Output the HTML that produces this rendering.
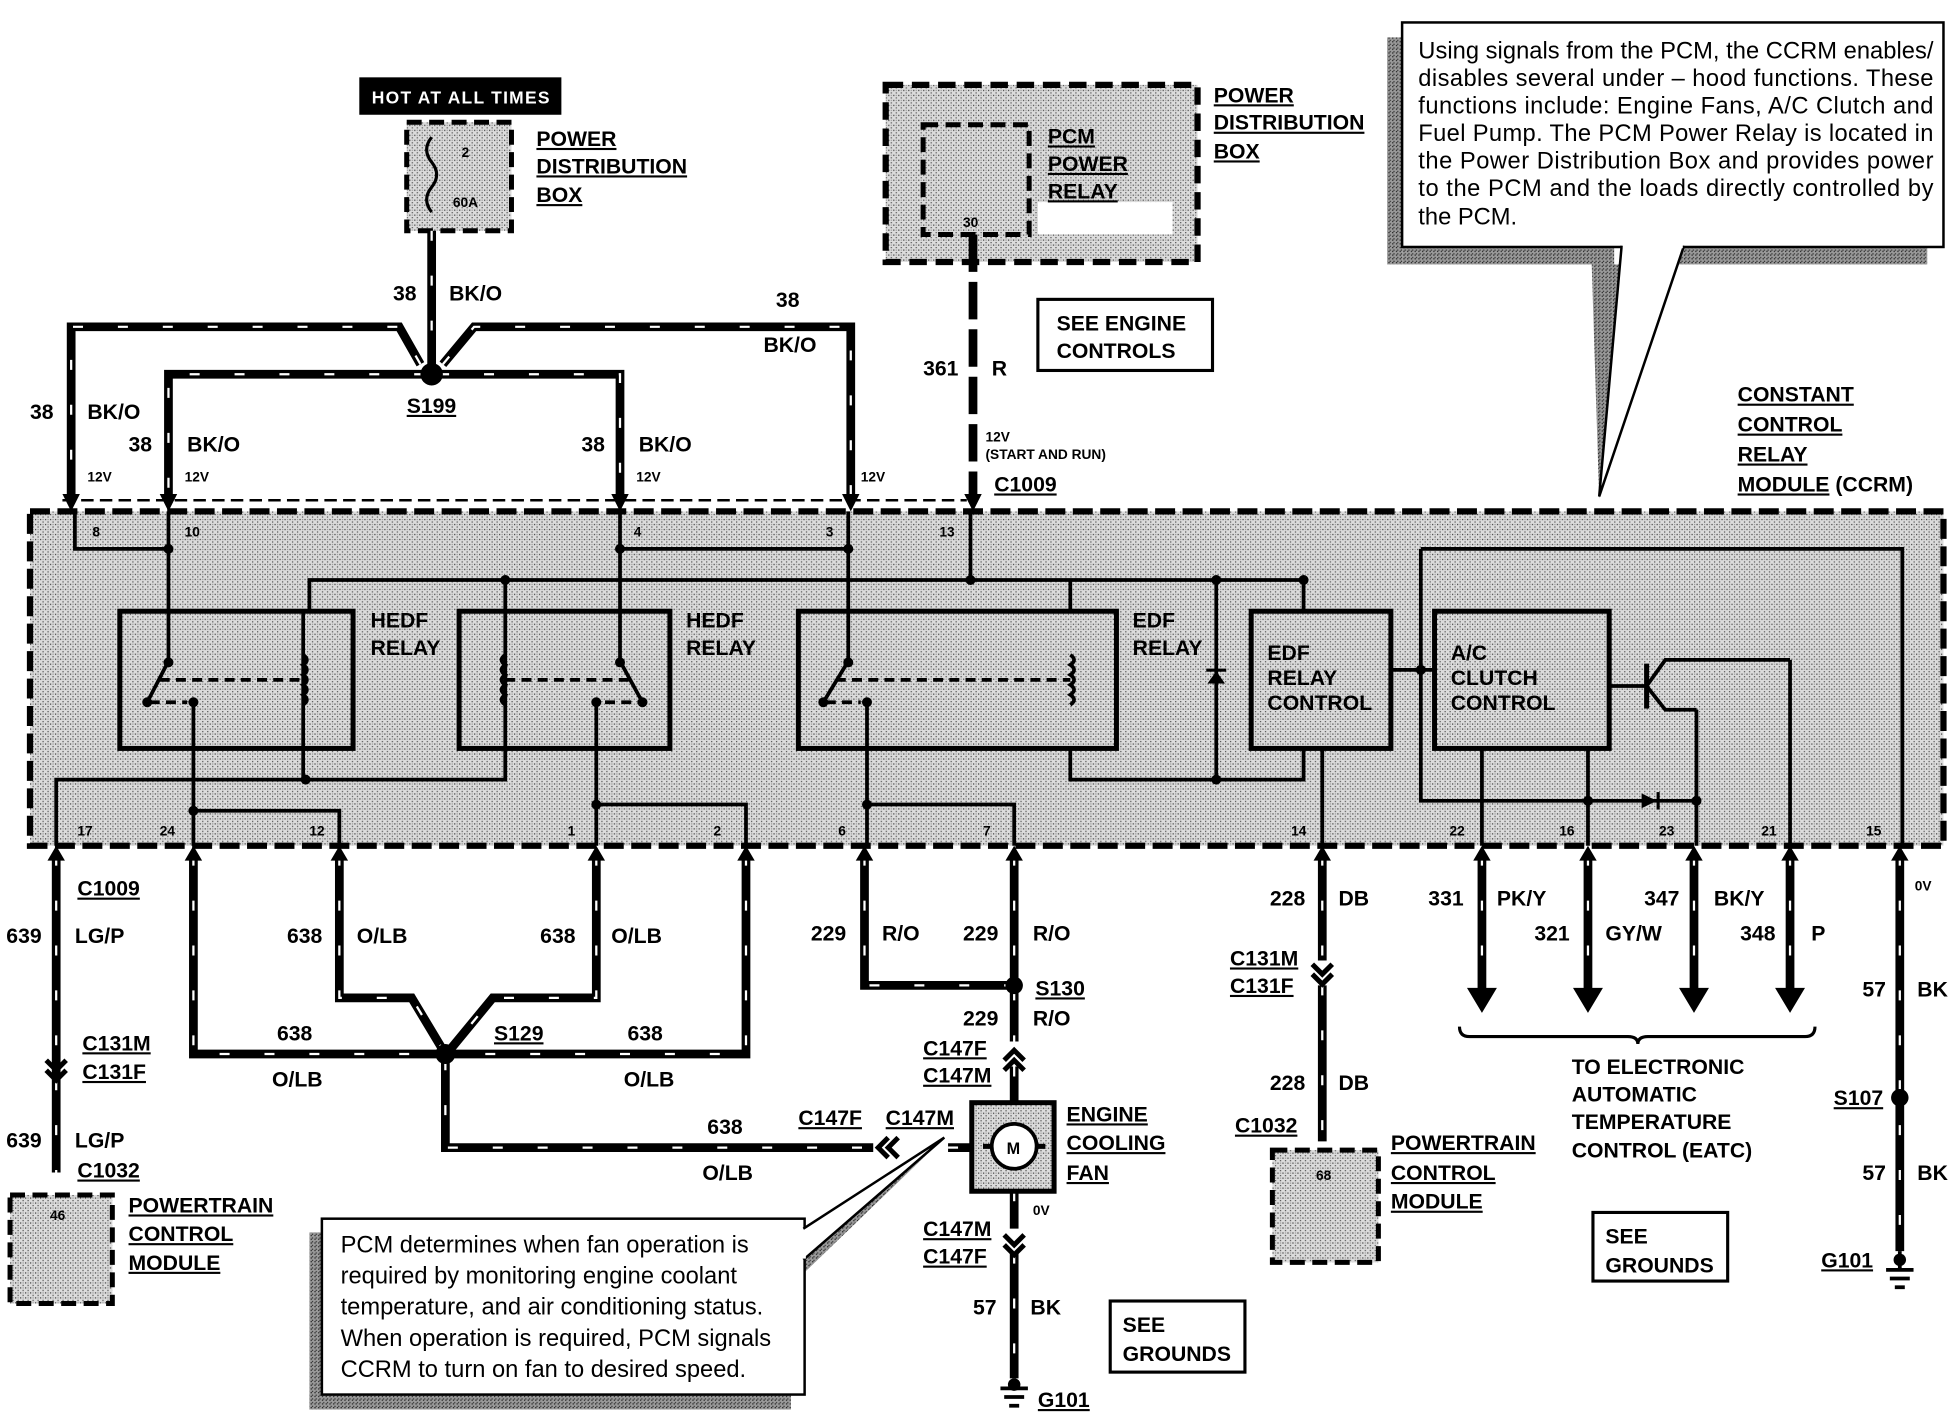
<!DOCTYPE html>
<html><head><meta charset="utf-8"><style>
html,body{margin:0;padding:0;background:#fff}
svg{display:block}
text{font-family:"Liberation Sans",sans-serif;font-weight:bold;fill:#000}
.t{font-size:17px}
.s{font-size:11px}
.n{font-size:19px;font-weight:normal}
.u{text-decoration:underline}
</style></head><body>
<svg width="1956" height="1424" viewBox="0 0 1568 1141.6" xmlns="http://www.w3.org/2000/svg">
<defs>
<pattern id="st" width="4" height="4" patternUnits="userSpaceOnUse"><rect width="4" height="4" fill="#dcdcdc"/><rect width="1" height="1" fill="#444"/><rect x="2" y="2" width="1" height="1" fill="#555"/><rect x="2" y="0" width="1" height="1" fill="#999"/></pattern>
<pattern id="sd" width="3" height="3" patternUnits="userSpaceOnUse"><rect width="3" height="3" fill="#999"/><rect width="1" height="1" fill="#222"/><rect x="1" y="2" width="1" height="1" fill="#333"/></pattern>
</defs>

<rect x="288" y="62" width="162" height="30" fill="#000"/>
<text x="298" y="83" class="s" style="font-size:14px;fill:#fff;letter-spacing:1px">HOT AT ALL TIMES</text>
<rect x="326" y="98" width="84" height="87" fill="url(#st)" stroke="#000" stroke-width="4" stroke-dasharray="12 6"/>
<path d="M346 110 q-8 10 0 20 q8 10 0 20 q-8 10 0 20" fill="none" stroke="#000" stroke-width="2.5"/>
<text x="370" y="126" class="s">2</text><text x="363" y="166" class="s">60A</text>
<text x="430" y="117" class="t u">POWER</text><text x="430" y="139" class="t u">DISTRIBUTION</text><text x="430" y="162" class="t u">BOX</text>

<rect x="710" y="68" width="250" height="142" fill="url(#st)" stroke="#000" stroke-width="5" stroke-dasharray="14 7"/>
<rect x="740" y="100" width="85" height="88" fill="none" stroke="#000" stroke-width="4" stroke-dasharray="12 6"/>
<rect x="832" y="162" width="108" height="26" fill="#fff"/>
<text x="840" y="115" class="t u">PCM</text><text x="840" y="137" class="t u">POWER</text><text x="840" y="159" class="t u">RELAY</text>
<text x="772" y="182" class="s">30</text>
<text x="973" y="82" class="t u">POWER</text><text x="973" y="104" class="t u">DISTRIBUTION</text><text x="973" y="127" class="t u">BOX</text>
<rect x="832" y="240" width="140" height="57" fill="#fff" stroke="#000" stroke-width="2.5"/>
<text x="847" y="265" class="t">SEE ENGINE</text><text x="847" y="287" class="t">CONTROLS</text>
<path d="M780 188 V398" stroke="#000" stroke-width="7" stroke-dasharray="30 8" fill="none"/>
<text x="740" y="301" class="t">361</text><text x="795" y="301" class="t">R</text>
<text x="790" y="354" class="s">12V</text><text x="790" y="368" class="s">(START AND RUN)</text>
<text x="797" y="394" class="t u">C1009</text>

<rect x="1112" y="30" width="12" height="182" fill="url(#sd)"/>
<rect x="1124" y="198" width="170" height="14" fill="url(#sd)"/>
<rect x="1345" y="198" width="200" height="14" fill="url(#sd)"/>
<path d="M1276 212 L1282 400 L1300 212Z" fill="url(#sd)"/>
<rect x="1124" y="18" width="434" height="180" fill="#fff" stroke="#000" stroke-width="2"/>
<path d="M1300 197 L1282 398 L1350 197" fill="#fff" stroke="#000" stroke-width="2"/>
<rect x="1301" y="195" width="48" height="4" fill="#fff"/>
<text x="1137" y="47" class="n" textLength="413">Using signals from the PCM, the CCRM enables/</text>
<text x="1137" y="69" class="n" textLength="413">disables several under – hood functions.  These</text>
<text x="1137" y="91" class="n" textLength="413">functions include:  Engine Fans, A/C Clutch and</text>
<text x="1137" y="113" class="n" textLength="413">Fuel Pump.  The PCM Power Relay is located in</text>
<text x="1137" y="135" class="n" textLength="413">the Power Distribution Box and provides power</text>
<text x="1137" y="157" class="n" textLength="413">to the PCM and the loads directly controlled by</text>
<text x="1137" y="180" class="n">the PCM.</text>
<text x="1393" y="322" class="t u">CONSTANT</text><text x="1393" y="346" class="t u">CONTROL</text><text x="1393" y="370" class="t u">RELAY</text><text x="1393" y="394" class="t"><tspan class="u">MODULE</tspan> (CCRM)</text>

<rect x="24" y="410" width="1534" height="268" fill="url(#st)" stroke="#000" stroke-width="5" stroke-dasharray="16 6"/>
<path d="M50 401 H775" stroke="#000" stroke-width="2" stroke-dasharray="10 5"/>

<g fill="none" stroke="#000" stroke-width="3">
<path d="M60 410 V440 H135 M135 410 V528"/>
<path d="M497 410 V528 M497 440 H680 M680 410 V528"/>
<path d="M778 410 V465"/>
<path d="M248 490 V465 H1045 V490 M405 465 V490"/>
<path d="M1139 440 H1525 V678 M1139 440 V642 H1360 M1115 537 H1150"/>
<path d="M45 678 V625 H405 V600 M243 490 V625 M405 490 V600"/>
<path d="M155 565 V678 M155 650 H272 V678"/>
<path d="M478 565 V678 M478 645 H598 V678"/>
<path d="M695 565 V678 M695 645 H813 V678"/>
<path d="M858 490 V465 M858 600 V625 H1045 V600 M975 465 V625"/>
<path d="M1060 600 V678 M1188 600 V678 M1273 600 V678 M1360 569 V678 M1435 529 V678"/>
<path d="M1290 550 H1320 M1320 550 L1335 529 H1435 M1320 550 L1335 569 H1360"/>
<path d="M135 530 L118 563 M497 530 L515 563 M680 530 L660 563"/>
</g>
<g fill="none" stroke="#000" stroke-width="4">
<rect x="96" y="490" width="187" height="110"/>
<rect x="368" y="490" width="169" height="110"/>
<rect x="640" y="490" width="255" height="110"/>
<rect x="1003" y="490" width="112" height="110"/>
<rect x="1150" y="490" width="140" height="110"/>
<path d="M1320 532 V568"/>
</g>
<g fill="none" stroke="#000" stroke-width="3" stroke-dasharray="8 5">
<path d="M128 545 H243 M120 563 H150"/>
<path d="M405 545 H505 M485 563 H512"/>
<path d="M670 545 H858 M662 563 H690"/>
</g>
<g fill="none" stroke="#000" stroke-width="3">
<path d="M243 525 q6 4 0 8 q6 4 0 8 q6 4 0 8 q6 4 0 8 q6 4 0 8"/>
<path d="M405 525 q-6 4 0 8 q-6 4 0 8 q-6 4 0 8 q-6 4 0 8 q-6 4 0 8"/>
<path d="M858 525 q6 4 0 8 q6 4 0 8 q6 4 0 8 q6 4 0 8 q6 4 0 8"/>
</g>
<g fill="#000">
<circle cx="135" cy="440" r="4"/><circle cx="497" cy="440" r="4"/><circle cx="680" cy="440" r="4"/>
<circle cx="405" cy="465" r="4"/><circle cx="778" cy="465" r="4"/><circle cx="975" cy="465" r="4"/><circle cx="1045" cy="465" r="4"/>
<circle cx="245" cy="625" r="4"/><circle cx="155" cy="650" r="4"/><circle cx="478" cy="645" r="4"/><circle cx="695" cy="645" r="4"/>
<circle cx="975" cy="625" r="4"/><circle cx="1139" cy="537" r="4"/><circle cx="1273" cy="642" r="4"/><circle cx="1360" cy="642" r="4"/>
<circle cx="135" cy="531" r="4"/><circle cx="118" cy="563" r="4"/><circle cx="155" cy="563" r="4"/>
<circle cx="497" cy="531" r="4"/><circle cx="515" cy="563" r="4"/><circle cx="478" cy="563" r="4"/>
<circle cx="680" cy="531" r="4"/><circle cx="660" cy="563" r="4"/><circle cx="695" cy="563" r="4"/>
<path d="M968 548 H982 L975 538Z"/><rect x="967" y="536" width="16" height="2.5"/>
<path d="M1316 636 L1328 642 L1316 648Z"/><rect x="1328" y="635" width="2.5" height="14"/>
</g>
<g class="s">
<text x="74" y="430">8</text><text x="148" y="430">10</text><text x="508" y="430">4</text><text x="662" y="430">3</text><text x="753" y="430">13</text>
<text x="62" y="670">17</text><text x="128" y="670">24</text><text x="248" y="670">12</text><text x="455" y="670">1</text><text x="572" y="670">2</text>
<text x="672" y="670">6</text><text x="788" y="670">7</text><text x="1035" y="670">14</text><text x="1162" y="670">22</text><text x="1250" y="670">16</text><text x="1330" y="670">23</text><text x="1412" y="670">21</text><text x="1496" y="670">15</text>
</g>
<text x="297" y="503" class="t">HEDF</text><text x="297" y="525" class="t">RELAY</text>
<text x="550" y="503" class="t">HEDF</text><text x="550" y="525" class="t">RELAY</text>
<text x="908" y="503" class="t">EDF</text><text x="908" y="525" class="t">RELAY</text>
<text x="1016" y="529" class="t">EDF</text><text x="1016" y="549" class="t">RELAY</text><text x="1016" y="569" class="t">CONTROL</text>
<text x="1163" y="529" class="t">A/C</text><text x="1163" y="549" class="t">CLUTCH</text><text x="1163" y="569" class="t">CONTROL</text>

<g fill="none" stroke-linejoin="miter">
<g stroke="#000" stroke-width="7"><g id="wires">
<path d="M346 185 V298"/>
<path d="M337 292 L320 262 H57 V398"/>
<path d="M355 292 L380 262 H682 V398"/>
<path d="M340 300 H135 V398"/>
<path d="M352 300 H497 V398"/>
<path d="M45 686 V940"/>
<path d="M155 686 V845 H350"/>
<path d="M272 686 V800 H330 L354 840"/>
<path d="M478 686 V800 H395 L362 840"/>
<path d="M598 686 V845 H364"/>
<path d="M357 850 V920 H700"/>
<path d="M693 686 V790 H810"/>
<path d="M813 686 V835"/>
<path d="M813 855 V883"/>
<path d="M813 955 V985"/>
<path d="M813 1005 V1105"/>
<path d="M1060 686 V770"/>
<path d="M1060 790 V915"/>
<path d="M1188 686 V795 M1273 686 V795 M1358 686 V795 M1435 686 V795"/>
<path d="M1523 686 V1003"/>
<path d="M760 920 H778"/>
</g></g>
<use href="#wires" stroke="#fff" stroke-width="1.8" stroke-dasharray="8 28"/>
</g>
<g fill="#000">
<circle cx="346" cy="300" r="9"/><circle cx="357" cy="845" r="8"/><circle cx="813" cy="790" r="7"/><circle cx="1523" cy="880" r="7"/>
<path d="M50 396 L64 396 L57 410Z M128 396 L142 396 L135 410Z M490 396 L504 396 L497 410Z M675 396 L689 396 L682 410Z M773 396 L787 396 L780 410Z"/>
<path d="M38 690 L52 690 L45 678Z M148 690 L162 690 L155 678Z M265 690 L279 690 L272 678Z M471 690 L485 690 L478 678Z M591 690 L605 690 L598 678Z M686 690 L700 690 L693 678Z M806 690 L820 690 L813 678Z M1053 690 L1067 690 L1060 678Z M1181 690 L1195 690 L1188 678Z M1266 690 L1280 690 L1273 678Z M1351 690 L1365 690 L1358 678Z M1428 690 L1442 690 L1435 678Z M1516 690 L1530 690 L1523 678Z"/>
<path d="M1176 792 L1200 792 L1188 812Z M1261 792 L1285 792 L1273 812Z M1346 792 L1370 792 L1358 812Z M1423 792 L1447 792 L1435 812Z"/>
</g>
<g fill="none" stroke="#000" stroke-width="4">
<path d="M37 850 L45 858 L53 850 M37 858 L45 866 L53 858"/>
<path d="M1052 773 L1060 781 L1068 773 M1052 781 L1060 789 L1068 781"/>
<path d="M805 850 L813 842 L821 850 M805 858 L813 850 L821 858"/>
<path d="M805 990 L813 998 L821 990 M805 998 L813 1006 L821 998"/>
<path d="M712 912 L704 920 L712 928 M720 912 L712 920 L720 928"/>
</g>

<g class="t">
<text x="315" y="241">38</text><text x="360" y="241">BK/O</text>
<text x="622" y="246">38</text><text x="612" y="282">BK/O</text>
<text x="24" y="336">38</text><text x="70" y="336">BK/O</text>
<text x="103" y="362">38</text><text x="150" y="362">BK/O</text>
<text x="466" y="362">38</text><text x="512" y="362">BK/O</text>
<text x="326" y="331" class="u">S199</text>
</g>
<g class="s"><text x="70" y="386">12V</text><text x="148" y="386">12V</text><text x="510" y="386">12V</text><text x="690" y="386">12V</text></g>

<g class="t">
<text x="62" y="718" class="u">C1009</text>
<text x="5" y="756">639</text><text x="60" y="756">LG/P</text>
<text x="66" y="842" class="u">C131M</text><text x="66" y="865" class="u">C131F</text>
<text x="5" y="920">639</text><text x="60" y="920">LG/P</text>
<text x="62" y="944" class="u">C1032</text>
<text x="103" y="972" class="u">POWERTRAIN</text><text x="103" y="995" class="u">CONTROL</text><text x="103" y="1018" class="u">MODULE</text>
<text x="230" y="756">638</text><text x="286" y="756">O/LB</text>
<text x="433" y="756">638</text><text x="490" y="756">O/LB</text>
<text x="222" y="834">638</text><text x="218" y="871">O/LB</text>
<text x="396" y="834" class="u">S129</text>
<text x="503" y="834">638</text><text x="500" y="871">O/LB</text>
<text x="567" y="909">638</text><text x="563" y="946">O/LB</text>
<text x="640" y="902" class="u">C147F</text><text x="710" y="902" class="u">C147M</text>
<text x="650" y="754">229</text><text x="707" y="754">R/O</text>
<text x="772" y="754">229</text><text x="828" y="754">R/O</text>
<text x="830" y="798" class="u">S130</text>
<text x="772" y="822">229</text><text x="828" y="822">R/O</text>
<text x="740" y="846" class="u">C147F</text><text x="740" y="868" class="u">C147M</text>
<text x="855" y="899" class="u">ENGINE</text><text x="855" y="922" class="u">COOLING</text><text x="855" y="946" class="u">FAN</text>
<text x="740" y="991" class="u">C147M</text><text x="740" y="1013" class="u">C147F</text>
<text x="780" y="1054">57</text><text x="826" y="1054">BK</text>
<text x="832" y="1128" class="u">G101</text>
<text x="1018" y="726">228</text><text x="1073" y="726">DB</text>
<text x="986" y="774" class="u">C131M</text><text x="986" y="796" class="u">C131F</text>
<text x="1018" y="874">228</text><text x="1073" y="874">DB</text>
<text x="990" y="908" class="u">C1032</text>
<text x="1115" y="922" class="u">POWERTRAIN</text><text x="1115" y="946" class="u">CONTROL</text><text x="1115" y="969" class="u">MODULE</text>
<text x="1145" y="726">331</text><text x="1200" y="726">PK/Y</text>
<text x="1230" y="754">321</text><text x="1287" y="754">GY/W</text>
<text x="1318" y="726">347</text><text x="1374" y="726">BK/Y</text>
<text x="1395" y="754">348</text><text x="1452" y="754">P</text>
<text x="1260" y="861">TO ELECTRONIC</text><text x="1260" y="883">AUTOMATIC</text><text x="1260" y="905">TEMPERATURE</text><text x="1260" y="928">CONTROL (EATC)</text>
<text x="1493" y="799">57</text><text x="1537" y="799">BK</text>
<text x="1470" y="886" class="u">S107</text>
<text x="1493" y="946">57</text><text x="1537" y="946">BK</text>
<text x="1460" y="1016" class="u">G101</text>
</g>
<text x="1535" y="714" class="s">0V</text>
<text x="828" y="974" class="s">0V</text>
<path d="M1170 823 q0 8 8 8 H1305 q8 0 8 6 q0 -6 8 -6 H1447 q8 0 8 -8" fill="none" stroke="#000" stroke-width="2.5"/>

<rect x="779" y="884" width="66" height="71" fill="url(#st)" stroke="#000" stroke-width="4"/>
<circle cx="813" cy="919" r="18" fill="#fff" stroke="#000" stroke-width="3"/>
<text x="807" y="925" class="s" style="font-size:13px">M</text>
<path d="M794 919 h-6 M832 919 h6" stroke="#000" stroke-width="4"/>

<rect x="8" y="958" width="82" height="87" fill="url(#st)" stroke="#000" stroke-width="4" stroke-dasharray="12 6"/>
<text x="40" y="978" class="s">46</text>
<rect x="1020" y="922" width="85" height="90" fill="url(#st)" stroke="#000" stroke-width="4" stroke-dasharray="12 6"/>
<text x="1055" y="946" class="s">68</text>

<g stroke="#000" stroke-width="3">
<path d="M802 1113 H824 M805 1120 H821 M809 1127 H817"/>
<path d="M1512 1018 H1534 M1515 1025 H1531 M1519 1032 H1527"/>
<path d="M813 1105 V1113 M1523 1003 V1018"/>
</g>
<circle cx="813" cy="1110" r="5" fill="#000"/><circle cx="1523" cy="1010" r="5" fill="#000"/>

<rect x="890" y="1043" width="108" height="57" fill="#fff" stroke="#000" stroke-width="2.5"/>
<text x="900" y="1068" class="t">SEE</text><text x="900" y="1091" class="t">GROUNDS</text>
<rect x="1277" y="972" width="108" height="55" fill="#fff" stroke="#000" stroke-width="2.5"/>
<text x="1287" y="997" class="t">SEE</text><text x="1287" y="1020" class="t">GROUNDS</text>

<rect x="248" y="988" width="12" height="142" fill="url(#sd)"/>
<rect x="248" y="1118" width="386" height="12" fill="url(#sd)"/>
<path d="M645 990 L757 912 L645 1020Z" fill="url(#sd)"/>
<rect x="258" y="977" width="387" height="141" fill="#fff" stroke="#000" stroke-width="2"/>
<path d="M644 1010 L757 912 L644 985" fill="#fff" stroke="#000" stroke-width="2"/>
<rect x="642" y="986" width="4" height="23" fill="#fff"/>
<text x="273" y="1004" class="n">PCM determines when fan operation is</text>
<text x="273" y="1029" class="n">required by monitoring engine coolant</text>
<text x="273" y="1054" class="n">temperature, and air conditioning status.</text>
<text x="273" y="1079" class="n">When operation is required, PCM signals</text>
<text x="273" y="1104" class="n">CCRM to turn on fan to desired speed.</text>
</svg>
</body></html>
